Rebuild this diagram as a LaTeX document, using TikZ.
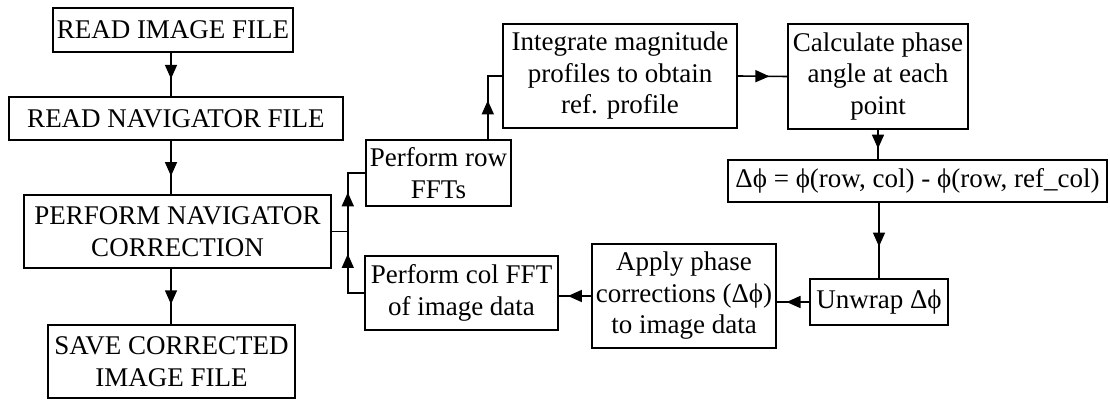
\documentclass[tikz,border=0pt]{standalone}
\usepackage{fontspec}
\setmainfont{Liberation Serif}
\usetikzlibrary{arrows.meta,decorations.markings}

\tikzset{
  box/.style={draw, line width=1.6pt, rectangle, inner sep=0pt, align=center,
    font=\fontsize{27}{31.5}\selectfont},
  flow/.style={line width=1.6pt,
    decoration={markings, mark=at position #1 with {\arrow{Triangle[length=14pt,width=12pt]}}},
    postaction={decorate}},
}

\begin{document}
\begin{tikzpicture}[x=1pt,y=-1pt]
\useasboundingbox (0,0) rectangle (1110,403);

% main column
\node[box, minimum width=240pt, minimum height=44pt] (img) at (173,30) {READ IMAGE FILE};
\node[box, minimum width=334pt, minimum height=43pt] (nav) at (176,118.5) {READ NAVIGATOR FILE};
\node[box, minimum width=307pt, minimum height=73pt] (corr) at (177.5,231.5) {PERFORM NAVIGATOR\\CORRECTION};
\node[box, minimum width=247pt, minimum height=73pt] (save) at (171.5,361.5) {SAVE CORRECTED\\IMAGE FILE};

% correction loop
\node[box, minimum width=145pt, minimum height=66pt] (row) at (438.5,173) {Perform row\\FFTs};
\node[box, minimum width=234pt, minimum height=104pt] (int) at (620,76) {Integrate magnitude\\profiles to obtain\\ref. profile};
\node[box, minimum width=180pt, minimum height=105pt] (calc) at (878,76.5) {Calculate phase\\angle at each\\point};
\node[box, minimum width=379pt, minimum height=42pt] (dphi) at (917.5,181) {Δϕ = ϕ(row, col) - ϕ(row, ref\_col)};
\node[box, minimum width=138pt, minimum height=46pt] (unwrap) at (879,302) {Unwrap Δϕ};
\node[box, minimum width=184pt, minimum height=104pt] (apply) at (684,296) {Apply phase\\corrections (Δϕ)\\to image data};
\node[box, minimum width=193pt, minimum height=74pt] (col) at (461.5,293) {Perform col FFT\\of image data};

\coordinate (split) at ([xshift=16pt]corr.east);

% connectors
\draw[flow=0.6] (171,0 |- img.south) -- (171,0 |- nav.north);
\draw[flow=0.66] (171,0 |- nav.south) -- (171,0 |- corr.north);
\draw[flow=0.64] (171,0 |- corr.south) -- (171,0 |- save.north);
\draw[flow=0.6] (corr.east) -- (split) |- (row.west);
\draw[flow=0.59] (col.west) -| (split) -- (corr.east);
\draw[flow=0.5] ([xshift=-24pt]row.north east) |- (int.west);
\draw[flow=0.64] (int.east) -- (calc.west);
\draw[flow=0.64] (calc.south) -- (calc.south |- dphi.north);
\draw[flow=0.58] (unwrap.north |- dphi.south) -- (unwrap.north);
\draw[flow=0.7] (unwrap.west) -- (unwrap.west -| apply.east);
\draw[flow=0.72] (apply.west) -- (apply.west -| col.east);
\end{tikzpicture}
\end{document}
